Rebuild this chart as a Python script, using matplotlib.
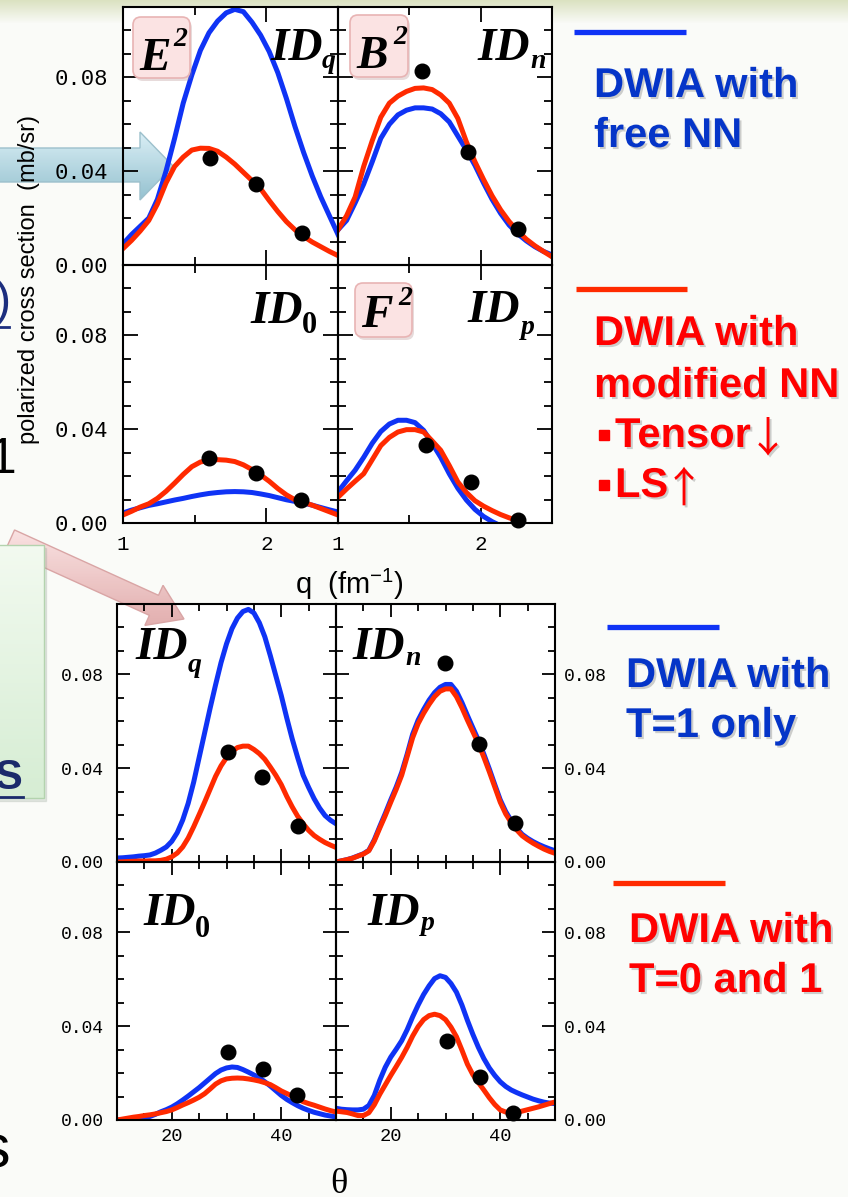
import numpy as np
import matplotlib.pyplot as plt
import matplotlib.patheffects as pe
from matplotlib.patches import FancyBboxPatch, Polygon, Rectangle
from matplotlib.ticker import MultipleLocator

# ---------------- data ----------------
# upper block: momentum transfer q (fm^-1)
q_grid = [1.00, 1.06, 1.12, 1.18, 1.24, 1.30, 1.36, 1.42, 1.48, 1.54, 1.60, 1.66, 1.72,
          1.78, 1.84, 1.90, 1.96, 2.02, 2.08, 2.14, 2.20, 2.26, 2.32, 2.38, 2.44, 2.50]

idq_free = [.009, .013, .0165, .020, .028, .040, .054, .069, .081, .0915, .099, .104, .1075,
            .109, .108, .1035, .098, .091, .082, .071, .059, .048, .038, .029, .021, .013]
idq_mod = [.007, .0105, .0145, .019, .026, .035, .042, .046, .049, .0498, .0497, .0485, .046,
           .043, .0395, .036, .0325, .0275, .0228, .0185, .015, .0122, .0098, .0078, .0058, .004]
idq_q_data = [1.61, 1.93, 2.25]
idq_y_data = [0.0456, 0.0345, 0.0136]

idn_free = [.015, .019, .0265, .0345, .044, .054, .060, .064, .066, .067, .067, .0665, .0645,
            .061, .055, .049, .0425, .035, .028, .022, .017, .0133, .0103, .0078, .0058, .0043]
idn_mod = [.015, .021, .029, .042, .053, .063, .069, .072, .074, .0753, .0755, .0748, .0725,
           .069, .0625, .0525, .044, .0365, .0295, .0235, .0185, .0145, .011, .0082, .0058, .0035]
idn_q_data = [1.59, 1.91, 2.26]
idn_y_data = [0.0826, 0.048, 0.0153]

id0_free = [.0043, .0055, .0065, .0075, .0082, .009, .0098, .0105, .0113, .012, .0126, .013, .0133,
            .0134, .0133, .013, .0124, .0117, .0108, .0099, .0092, .0085, .0076, .0066, .0056, .0047]
id0_mod = [.0034, .005, .0068, .0082, .0105, .0135, .017, .0207, .024, .026, .0268, .027, .0268,
           .0262, .0248, .0228, .0205, .0178, .0147, .012, .0099, .0088, .0076, .0062, .0048, .0034]
id0_q_data = [1.60, 1.93, 2.24]
id0_y_data = [0.0278, 0.0214, 0.0098]

idp_free_q = q_grid[:19] + [2.10]
idp_free = [.0133, .018, .0225, .028, .034, .039, .0422, .0438, .0438, .0428, .0395, .034, .028,
            .021, .0148, .0098, .0058, .0028, .0006, 0.0]
idp_mod_q = q_grid[:22]
idp_mod = [.011, .0145, .0178, .021, .027, .033, .0365, .0388, .0398, .0398, .0388, .035, .031,
           .0245, .0175, .013, .0095, .0072, .0053, .0036, .0022, .001]
idp_q_data = [1.62, 1.93, 2.26]
idp_y_data = [0.0334, 0.0175, 0.0013]

# lower block: scattering angle theta (deg), 10..50 in steps of 1
th_grid = list(range(10, 51))

t_idq_t1 = [.0017, .0018, .002, .0022, .0025, .0027, .003, .0038, .005, .0064, .0088, .0125, .0179,
            .025, .034, .0445, .055, .0655, .0755, .085, .093, .0995, .104, .1068, .1077, .1062,
            .102, .096, .088, .0795, .071, .0615, .0525, .0445, .037, .0318, .027, .023, .0198,
            .0178, .0163]
t_idq_t01 = [0, .0001, .0002, .0003, .0004, .0004, .0005, .0005, .0007, .0012, .0022, .0038, .0064,
             .0102, .015, .0202, .0255, .031, .0365, .041, .0445, .0472, .0488, .0494, .0494, .048,
             .0462, .0438, .0405, .037, .033, .028, .0235, .0195, .0163, .0135, .0113, .0097, .0083,
             .0072, .0062]
t_idq_th = [30.3, 36.5, 43.0]
t_idq_y = [0.0468, 0.0362, 0.0153]

t_idn_t1 = [0, .0005, .001, .0017, .0026, .0035, .005, .0095, .0152, .0207, .0265, .032, .0382,
            .046, .0545, .0605, .065, .069, .0722, .0745, .0757, .0757, .0728, .068, .0625, .0572,
            .052, .046, .0397, .033, .0265, .0215, .0176, .0144, .0118, .0101, .0087, .0075, .0065,
            .0056, .0048]
t_idn_t01 = [0, .0005, .001, .0016, .0025, .0034, .0048, .009, .0145, .0198, .0255, .031, .037,
             .045, .053, .059, .0634, .0672, .0705, .0728, .0738, .0738, .0705, .0658, .0605, .0555,
             .0505, .0447, .0385, .032, .0255, .0205, .0168, .0137, .0112, .0095, .008, .0067,
             .0055, .0045, .0037]
t_idn_th = [29.9, 36.1, 42.7]
t_idn_y = [0.0847, 0.0502, 0.0166]

t_id0_t1 = [0, .0001, .0003, .0005, .0008, .0011, .0015, .0024, .0035, .0044, .0055, .0069, .0085,
            .0102, .012, .0138, .0158, .0178, .0198, .0213, .0222, .0226, .0224, .0215, .0204,
            .0192, .018, .0163, .0145, .0125, .0105, .0088, .0074, .0061, .005, .0041, .0033,
            .0027, .0021, .0017, .0013]
t_id0_t01 = [0, .0004, .0008, .0012, .0015, .0019, .0022, .0026, .0031, .0036, .0043, .0053, .0064,
             .0074, .0085, .0097, .0112, .0132, .0153, .0167, .0175, .0178, .0179, .0178, .0175,
             .0171, .0166, .0159, .0151, .0138, .0124, .0113, .0102, .009, .0078, .007, .0063,
             .0055, .0047, .004, .0034]
t_id0_th = [30.3, 36.7, 42.8]
t_id0_y = [0.029, 0.0217, 0.0106]

t_idp_t1 = [.005, .0046, .0044, .0043, .0043, .0046, .0062, .0105, .017, .0225, .0268, .0302, .0338,
            .0385, .044, .049, .0535, .0572, .0603, .0615, .0608, .0582, .0545, .049, .0425, .0365,
            .031, .0262, .0222, .019, .0163, .0143, .0128, .0117, .0107, .0098, .0089, .0082,
            .0076, .0072, .007]
t_idp_t01 = [.0038, .0035, .0032, .0026, .0019, .0019, .0031, .0065, .011, .015, .019, .0228, .0267,
             .031, .0358, .0398, .0428, .0445, .0451, .0445, .0428, .0396, .0355, .0298, .0238,
             .0193, .016, .0128, .0095, .0066, .0043, .0034, .003, .0033, .0038, .0044, .005,
             .0056, .0063, .007, .0077]
t_idp_th = [30.3, 36.3, 42.3]
t_idp_y = [0.0336, 0.0183, 0.003]

ytick_vals = [0.0, 0.04, 0.08]
ytick_labels = ['0.00', '0.04', '0.08']

# ---------------- figure ----------------
BLUE = '#0f33f5'
RED = '#ff2a00'
TXT_BLUE = '#0535c8'
TXT_RED = '#ff0000'
W, H = 848, 1197

fig = plt.figure(figsize=(W / 100, H / 100), dpi=100)
fig.patch.set_facecolor('#fafbf8')

# background layer (pixel coordinates, y down)
bg = fig.add_axes([0, 0, 1, 1], zorder=-5)
strip = np.ones((24, 1, 4))
strip[..., 0], strip[..., 1], strip[..., 2] = 0.86, 0.89, 0.76
strip[:, 0, 3] = np.linspace(1, 0, 24)
bg.imshow(strip, extent=[0, W, 24, 0], aspect='auto')
bg.add_patch(Rectangle((123, 7), 429, 516, color='white'))
bg.add_patch(Rectangle((117, 604), 438, 516, color='white'))
bg.set_xlim(0, W)
bg.set_ylim(H, 0)
bg.axis('off')


def grad_poly(ax, pts, c0, c1, alpha=1.0, edge='none', z=1):
    poly = Polygon(pts, closed=True, facecolor='none', edgecolor=edge, lw=1, zorder=z + 0.1)
    ax.add_patch(poly)
    xs = [p[0] for p in pts]
    ys = [p[1] for p in pts]
    g = np.linspace(0, 1, 64)[:, None, None]
    img = (1 - g) * np.array(c0)[None, None, :] + g * np.array(c1)[None, None, :]
    im = ax.imshow(img, extent=[min(xs), max(xs), max(ys), min(ys)], aspect='auto',
                   zorder=z, alpha=alpha)
    im.set_clip_path(poly)


# light blue arrow (slide decoration, under the plot)
grad_poly(bg, [(-5, 148), (140, 148), (140, 132), (173, 166), (140, 200), (140, 182), (-5, 182)],
          (0.84, 0.93, 0.96), (0.55, 0.74, 0.80), alpha=0.92, edge='#9cc0cc', z=2)

# pink arrow
S = np.array([10.0, 540.0])
T = np.array([184.0, 619.0])
u = (T - S) / np.linalg.norm(T - S)
n = np.array([-u[1], u[0]])
B = T - 33 * u
pink = [S + 11 * n, B + 11 * n, B + 22 * n, T, B - 22 * n, B - 11 * n, S - 11 * n]
grad_poly(bg, [tuple(p) for p in pink], (0.98, 0.88, 0.88), (0.88, 0.66, 0.66),
          alpha=0.92, edge='#d9a5a5', z=2)
bg.set_xlim(0, W)
bg.set_ylim(H, 0)


def panel(rect, xlim, xmaj, xlabels, xminor, yfs, xfs, ypad, xpad, lmaj, lmin):
    x0, y0, x1, y1 = rect
    ax = fig.add_axes([x0 / W, 1 - y1 / H, (x1 - x0) / W, (y1 - y0) / H])
    ax.patch.set_alpha(0)
    ax.set_xlim(*xlim)
    ax.set_ylim(0, 0.11)
    ax.set_xticks(xmaj, labels=xlabels)
    ax.xaxis.set_minor_locator(MultipleLocator(xminor))
    ax.set_yticks(ytick_vals, labels=ytick_labels)
    ax.yaxis.set_minor_locator(MultipleLocator(0.01))
    ax.tick_params(which='both', direction='in', top=True, right=True, width=1.3)
    ax.tick_params(which='major', length=lmaj)
    ax.tick_params(which='minor', length=lmin)
    ax.tick_params(axis='y', labelsize=yfs, pad=ypad)
    ax.tick_params(axis='x', labelsize=xfs, pad=xpad)
    ax.tick_params(labelfontfamily='Liberation Mono')
    for s in ax.spines.values():
        s.set_linewidth(1.5)
    return ax


def curves(ax, x1, y1, x2, y2, xd, yd):
    ax.plot(x1, y1, color=BLUE, lw=3.6, solid_joinstyle='round')
    ax.plot(x2, y2, color=RED, lw=3.6, solid_joinstyle='round')
    ax.plot(xd, yd, 'o', color='black', ms=10.5, clip_on=False, zorder=5)


top = dict(xlim=(1, 2.5), xmaj=[1, 2], xlabels=['1', '2'], xminor=0.5, yfs=16, xfs=15,
           ypad=11, xpad=9, lmaj=10.5, lmin=5.5)
bot = dict(xlim=(10, 50), xmaj=[20, 40], xlabels=['20', '40'], xminor=5, yfs=13, xfs=13.5,
           ypad=9.5, xpad=6, lmaj=9.5, lmin=5)

a1 = panel((123, 7, 338, 265), **top)
a2 = panel((338, 7, 552, 265), **top)
a3 = panel((123, 265, 338, 523), **top)
a4 = panel((338, 265, 552, 523), **top)
a1.tick_params(labelbottom=False)
a2.tick_params(labelbottom=False, labelleft=False)
a4.tick_params(labelleft=False)

curves(a1, q_grid, idq_free, q_grid, idq_mod, idq_q_data, idq_y_data)
curves(a2, q_grid, idn_free, q_grid, idn_mod, idn_q_data, idn_y_data)
curves(a3, q_grid, id0_free, q_grid, id0_mod, id0_q_data, id0_y_data)
curves(a4, idp_free_q, idp_free, idp_mod_q, idp_mod, idp_q_data, idp_y_data)

b1 = panel((117, 604, 336, 862), **bot)
b2 = panel((336, 604, 555, 862), **bot)
b3 = panel((117, 862, 336, 1120), **bot)
b4 = panel((336, 862, 555, 1120), **bot)
b1.tick_params(labelbottom=False)
b2.tick_params(labelbottom=False, labelleft=False, labelright=True)
b4.tick_params(labelleft=False, labelright=True)
b2.tick_params(axis='y', pad=6.5)
b4.tick_params(axis='y', pad=6.5)

curves(b1, th_grid, t_idq_t1, th_grid, t_idq_t01, t_idq_th, t_idq_y)
curves(b2, th_grid, t_idn_t1, th_grid, t_idn_t01, t_idn_th, t_idn_y)
curves(b3, th_grid, t_id0_t1, th_grid, t_id0_t01, t_id0_th, t_id0_y)
curves(b4, th_grid, t_idp_t1, th_grid, t_idp_t01, t_idp_th, t_idp_y)

# ---------------- overlay in pixel coordinates ----------------
ov = fig.add_axes([0, 0, 1, 1], zorder=5)
ov.set_xlim(0, W)
ov.set_ylim(H, 0)
ov.axis('off')

# green text box on the left edge
ov.add_patch(Rectangle((-8, 548), 54, 253, color='#9aa89a', alpha=0.25, zorder=3))
grad_poly(ov, [(-10, 545), (44, 545), (44, 798), (-10, 798)],
          (0.95, 0.98, 0.94), (0.84, 0.93, 0.83), edge='#b3d3ae', z=3.5)
ov.text(23, 789, 'S', fontsize=30, fontweight='bold', family='Liberation Sans',
        color='#1b2a6b', ha='right', va='baseline', zorder=4)
ov.plot([0, 23], [797, 797], color='#1b2a6b', lw=2, zorder=4)
ov.set_xlim(0, W)
ov.set_ylim(H, 0)

# cut-off slide text fragments
ov.text(11, 315, ')', fontsize=35, family='Liberation Sans', color='#1c2e7e',
        ha='right', va='baseline')
ov.plot([0, 9], [327, 327], color='#1c2e7e', lw=2)
ov.text(16, 473, '1', fontsize=36, family='Liberation Sans', color='black',
        ha='right', va='baseline')
ov.text(10, 1167, 's', fontsize=44, family='Liberation Sans', color='black',
        ha='right', va='baseline')

# axis titles
ov.text(29, 279, 'polarized cross section  (mb/sr)', rotation=90, fontsize=17,
        family='Liberation Sans', ha='center', va='center')
ov.text(295, 594, r'q  (fm$^{\mathregular{-1}}$)', fontsize=21, family='Liberation Sans',
        ha='left', va='baseline')
ov.text(339, 1193, 'θ', fontsize=26, family='Liberation Serif', ha='center', va='baseline')

# pink E^2 / B^2 / F^2 boxes
sf = dict(family='Liberation Serif', fontweight='bold', fontstyle='italic', va='baseline',
          ha='left', color='black')
for (x0, y0, x1, y1, letter, lx, ly, sx, sy) in [
        (133, 17, 190, 78, 'E', 139, 70, 173, 46),
        (350, 15, 408, 77, 'B', 356, 68, 393, 44),
        (355, 283, 412, 337, 'F', 361, 327, 398, 305)]:
    ov.add_patch(FancyBboxPatch((x0 + 2, y0 + 3), x1 - x0, y1 - y0,
                                boxstyle='round,pad=0,rounding_size=8',
                                facecolor='#b08a8a', edgecolor='none', alpha=0.3, zorder=6))
    ov.add_patch(FancyBboxPatch((x0, y0), x1 - x0, y1 - y0,
                                boxstyle='round,pad=0,rounding_size=8',
                                facecolor='#fbe3e3', edgecolor='#e8b4b4', lw=1.2, zorder=6.5))
    ov.text(lx, ly, letter, fontsize=34, zorder=7, **sf)
    ov.text(sx, sy, '2', fontsize=20, zorder=7, **sf)

# ID labels
for (x, y, sub, sx, sy, upright) in [
        (270, 60, 'q', 322, 68, False), (477, 60, 'n', 530, 68, False),
        (250, 323, '0', 302, 333, True), (467, 322, 'p', 521, 334, False),
        (135, 659, 'q', 188, 672, False), (352, 659, 'n', 405, 665, False),
        (143, 925, '0', 195, 937, True), (367, 925, 'p', 421, 930, False)]:
    ov.text(x, y, 'ID', fontsize=34, zorder=7, **sf)
    ov.text(sx, sy, sub, fontsize=22 if upright else 20, zorder=7,
            family='Liberation Serif', fontweight='bold',
            fontstyle='normal' if upright else 'italic', va='baseline', ha='left')

# legend-style annotations on the right
shadow = [pe.withSimplePatchShadow(offset=(1.5, -1.5), shadow_rgbFace='#888888', alpha=0.4)]
lf = dict(fontsize=30, fontweight='bold', family='Liberation Sans',
          ha='left', va='baseline', path_effects=shadow)
af = dict(fontsize=30, family='Noto Sans CJK JP', ha='center', va='baseline',
          color=TXT_RED, path_effects=shadow)

ov.plot([574, 686], [32, 32], color=BLUE, lw=3.8, solid_capstyle='butt')
ov.text(594, 97, 'DWIA with', color=TXT_BLUE, **lf)
ov.text(594, 147, 'free NN', color=TXT_BLUE, **lf)

ov.plot([576, 687], [289, 289], color=RED, lw=3.8, solid_capstyle='butt')
ov.text(594, 345, 'DWIA with', color=TXT_RED, **lf)
ov.text(594, 397, 'modified NN', color=TXT_RED, **lf)
ov.add_patch(Rectangle((599, 430), 10, 10, color=TXT_RED))
ov.text(615, 447, 'Tensor', color=TXT_RED, **lf)
ov.text(768, 452, '↓', **af)
ov.add_patch(Rectangle((599, 480), 10, 10, color=TXT_RED))
ov.text(615, 497, 'LS', color=TXT_RED, **lf)
ov.text(684, 502, '↑', **af)

ov.plot([607, 719], [627, 627], color=BLUE, lw=3.8, solid_capstyle='butt')
ov.text(626, 687, 'DWIA with', color=TXT_BLUE, **lf)
ov.text(626, 737, 'T=1 only', color=TXT_BLUE, **lf)

ov.plot([613, 725], [883, 883], color=RED, lw=3.8, solid_capstyle='butt')
ov.text(629, 942, 'DWIA with', color=TXT_RED, **lf)
ov.text(629, 992, 'T=0 and 1', color=TXT_RED, **lf)

fig.savefig('out.png', dpi=100, facecolor=fig.get_facecolor())
